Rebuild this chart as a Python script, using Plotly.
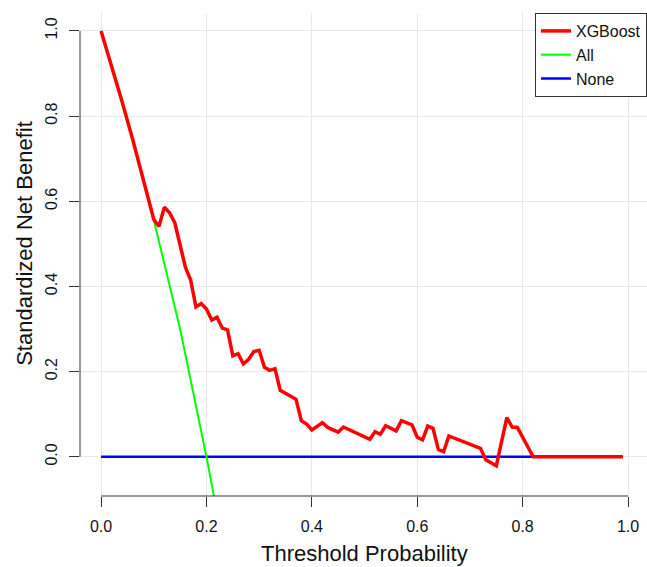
import plotly.graph_objects as go

# Decision curve: standardized net benefit by threshold probability
xgb_threshold = [0.00, 0.02, 0.04, 0.06, 0.08, 0.10, 0.11, 0.12, 0.13, 0.14,
                 0.16, 0.17, 0.18, 0.19, 0.20, 0.21, 0.22, 0.23, 0.24, 0.25,
                 0.26, 0.27, 0.28, 0.29, 0.30, 0.31, 0.32, 0.33, 0.34, 0.37,
                 0.38, 0.39, 0.40, 0.42, 0.43, 0.45, 0.46, 0.51, 0.52, 0.53,
                 0.54, 0.56, 0.57, 0.59, 0.60, 0.61, 0.62, 0.63, 0.64, 0.65,
                 0.66, 0.72, 0.73, 0.75, 0.77, 0.78, 0.79, 0.82, 0.99]
xgb_benefit = [1.000, 0.918, 0.833, 0.745, 0.652, 0.557, 0.541, 0.586, 0.573, 0.549,
               0.445, 0.415, 0.352, 0.360, 0.347, 0.321, 0.328, 0.302, 0.298, 0.237,
               0.242, 0.218, 0.229, 0.247, 0.250, 0.210, 0.203, 0.207, 0.156, 0.135,
               0.085, 0.077, 0.063, 0.080, 0.069, 0.058, 0.070, 0.041, 0.059, 0.053,
               0.073, 0.061, 0.085, 0.075, 0.046, 0.040, 0.072, 0.067, 0.017, 0.012,
               0.049, 0.020, -0.007, -0.021, 0.092, 0.070, 0.069, 0.000, 0.000]

all_threshold = [0.00, 0.05, 0.10, 0.15, 0.20, 0.22]
all_benefit = [1.000, 0.790, 0.556, 0.300, 0.000, -0.130]

none_threshold = [0.00, 0.99]
none_benefit = [0.0, 0.0]

tick_values = [0.0, 0.2, 0.4, 0.6, 0.8, 1.0]
tick_labels = ["0.0", "0.2", "0.4", "0.6", "0.8", "1.0"]

FONT = "Liberation Sans, Arial, Helvetica, sans-serif"
AXIS_COLOR = "#333333"

fig = go.Figure()
fig.add_trace(go.Scatter(x=none_threshold, y=none_benefit, mode="lines", name="None",
                         line=dict(color="#0000ff", width=2.5), legendrank=3))
fig.add_trace(go.Scatter(x=all_threshold, y=all_benefit, mode="lines", name="All",
                         line=dict(color="#00ff00", width=2), legendrank=2))
fig.add_trace(go.Scatter(x=xgb_threshold, y=xgb_benefit, mode="lines", name="XGBoost",
                         line=dict(color="#ff0000", width=3.5), legendrank=1))

axis_common = dict(
    tickvals=tick_values, ticktext=tick_labels,
    showgrid=True, gridcolor="#e8e8e8", gridwidth=1,
    zeroline=False, showline=False,
    ticks="outside", ticklen=10, tickwidth=1, tickcolor=AXIS_COLOR,
    tickfont=dict(family=FONT, size=16, color="#111111"),
)

fig.update_xaxes(range=[-0.04, 1.036], ticklabelstandoff=6, **axis_common)
fig.update_yaxes(range=[-0.092, 1.042], tickangle=-90, ticklabelstandoff=6, **axis_common)

# R-style axis lines spanning only the tick range
fig.add_shape(type="line", xref="x", yref="paper", x0=0, x1=1, y0=0, y1=0,
              line=dict(color=AXIS_COLOR, width=1))
fig.add_shape(type="line", xref="paper", yref="y", x0=0, x1=0, y0=0, y1=1,
              line=dict(color=AXIS_COLOR, width=1))

fig.add_annotation(text="Threshold Probability", xref="x", yref="paper", x=0.5, y=0,
                   yanchor="middle", yshift=-57, showarrow=False,
                   font=dict(family=FONT, size=22, color="#111111"))
fig.add_annotation(text="Standardized Net Benefit", xref="paper", yref="y", x=0, y=0.5,
                   xanchor="center", xshift=-55, textangle=-90, showarrow=False,
                   font=dict(family=FONT, size=22, color="#111111"))

fig.update_layout(
    width=647, height=567,
    margin=dict(l=80, r=0, t=13, b=71),
    plot_bgcolor="white", paper_bgcolor="white",
    legend=dict(x=1.0, y=1.0, xanchor="right", yanchor="top",
                bordercolor=AXIS_COLOR, borderwidth=1, bgcolor="white",
                font=dict(family=FONT, size=16, color="#111111"),
                tracegroupgap=0, itemwidth=30),
    showlegend=True,
)

fig.write_html("out.html")
